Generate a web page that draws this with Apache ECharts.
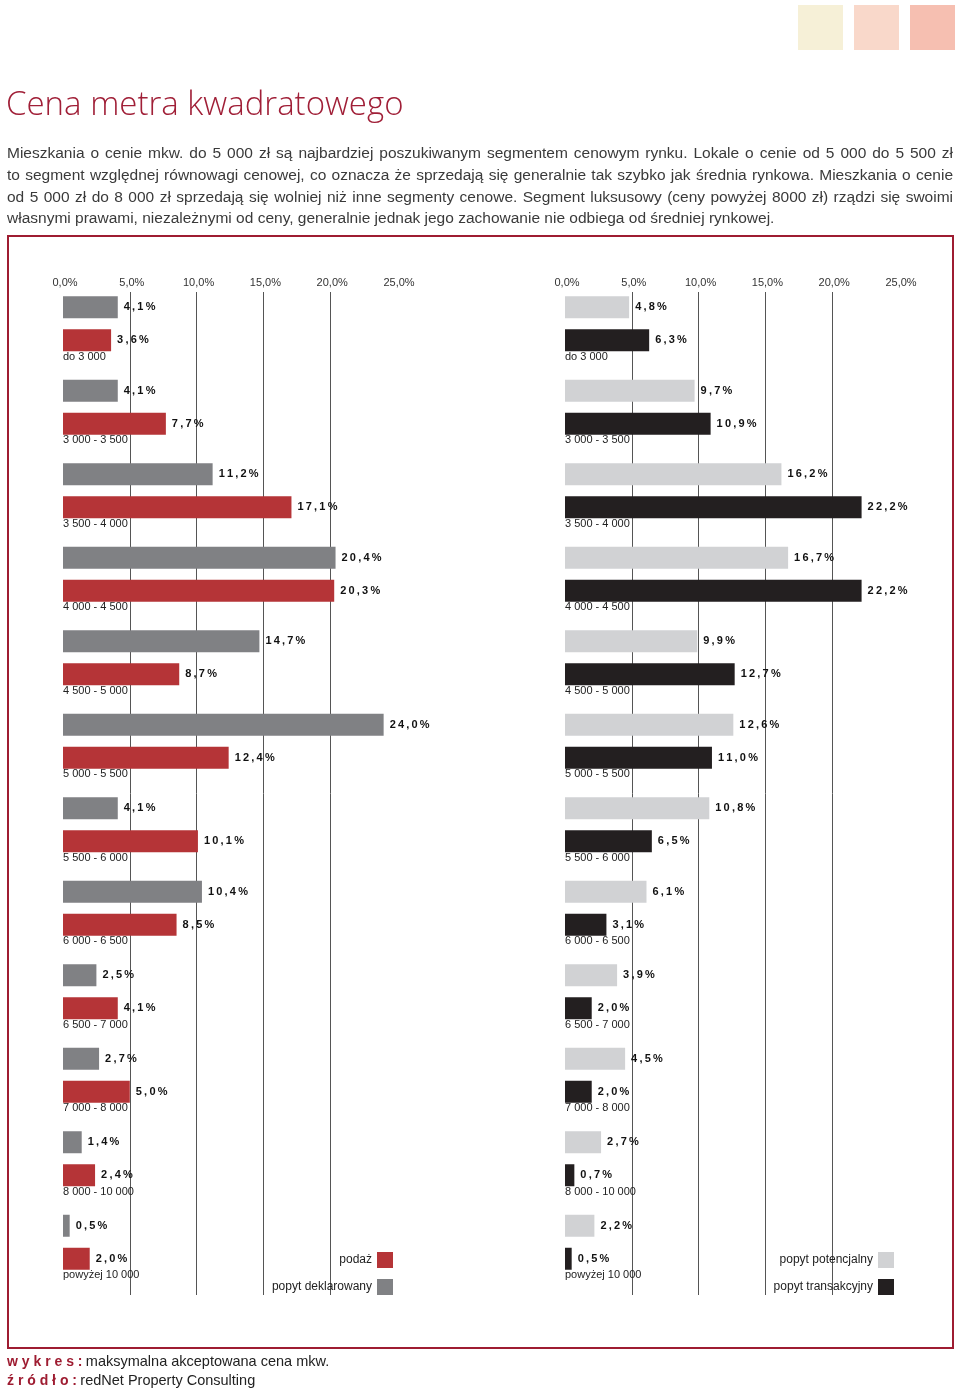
<!DOCTYPE html>
<html>
<head>
<meta charset="utf-8">
<script src="https://cdn.jsdelivr.net/npm/echarts@6/dist/echarts.min.js"></script>
<style>
html,body{margin:0;padding:0;background:#fff;}
#chart{width:960px;height:1390px;}
</style>
</head>
<body>
<div id="chart"></div>
<script>
// ---- data ----
const categories = ['do 3 000','3 000 - 3 500','3 500 - 4 000','4 000 - 4 500','4 500 - 5 000','5 000 - 5 500','5 500 - 6 000','6 000 - 6 500','6 500 - 7 000','7 000 - 8 000','8 000 - 10 000','powyżej 10 000'];
const popytDeklarowany = [4.1, 4.1, 11.2, 20.4, 14.7, 24.0, 4.1, 10.4, 2.5, 2.7, 1.4, 0.5];
const podaz = [3.6, 7.7, 17.1, 20.3, 8.7, 12.4, 10.1, 8.5, 4.1, 5.0, 2.4, 2.0];
const popytPotencjalny = [4.8, 9.7, 16.2, 16.7, 9.9, 12.6, 10.8, 6.1, 3.9, 4.5, 2.7, 2.2];
const popytTransakcyjny = [6.3, 10.9, 22.2, 22.2, 12.7, 11.0, 6.5, 3.1, 2.0, 2.0, 0.7, 0.5];
const axisMin = 0, axisMax = 25, axisStep = 5;
const seriesNames = ['popyt deklarowany', 'podaż', 'popyt potencjalny', 'popyt transakcyjny'];

const titleText = 'Cena metra kwadratowego';
const paragraphLines = [
  'Mieszkania o cenie mkw. do 5 000 zł są najbardziej poszukiwanym segmentem cenowym rynku. Lokale o cenie od 5 000 do 5 500 zł',
  'to segment względnej równowagi cenowej, co oznacza że sprzedają się generalnie tak szybko jak średnia rynkowa. Mieszkania o cenie',
  'od 5 000 zł do 8 000 zł sprzedają się wolniej niż inne segmenty cenowe. Segment luksusowy (ceny powyżej 8000 zł) rządzi się swoimi',
  'własnymi prawami, niezależnymi od ceny, generalnie jednak jego zachowanie nie odbiega od średniej rynkowej.'
];
const footerLabel1 = 'w y k r e s :', footerText1 = 'maksymalna akceptowana cena mkw.';
const footerLabel2 = 'ź r ó d ł o :', footerText2 = 'redNet Property Consulting';

// ---- styles ----
const C_RED = '#b53437', C_GRAY = '#808184', C_LGRAY = '#d1d2d4', C_BLACK = '#231f20';
const DARKRED = '#9e1c31';
const FONT = '"Liberation Sans", Arial, sans-serif';

function fmtPct(v) { return v.toFixed(1).replace('.', ','); }
function spaced(s) { return s.split('').join('\u2009'); }

function justified(lines, x0, width, y0, lh, size) {
  const ctx = document.createElement('canvas').getContext('2d');
  let fs = size, font;
  for (;;) {
    font = fs + 'px ' + FONT;
    ctx.font = font;
    let ok = true;
    for (const l of lines) { if (ctx.measureText(l).width > width - 4) ok = false; }
    if (ok || fs < 10) break;
    fs -= 0.25;
  }
  const els = [];
  lines.forEach((line, i) => {
    const y = y0 + i * lh;
    if (i === lines.length - 1) {
      els.push({type: 'text', x: x0, y: y, silent: true, style: {text: line, font: font, fill: '#3a3a3a', verticalAlign: 'middle'}});
      return;
    }
    const words = line.split(' ');
    const w = words.map(t => ctx.measureText(t).width);
    const tot = w.reduce((a, b) => a + b, 0);
    const gap = (width - tot) / (words.length - 1);
    let x = x0;
    words.forEach((t, j) => {
      els.push({type: 'text', x: x, y: y, silent: true, style: {text: t, font: font, fill: '#3a3a3a', verticalAlign: 'middle'}});
      x += w[j] + gap;
    });
  });
  return els;
}

const chart = echarts.init(document.getElementById('chart'), null, {renderer: 'canvas'});

const barGridTop = 282, barGridH = 1002, lineGridTop = 292, lineGridH = 1003;
const panelLeft = [63, 565], panelW = 334;

function barLabel() {
  return {
    show: true, position: 'right', distance: 6,
    formatter: p => spaced(fmtPct(p.value) + '%'),
    fontFamily: FONT, fontSize: 11, fontWeight: 'bold', color: '#111'
  };
}

const grids = [
  {left: panelLeft[0], top: barGridTop, width: panelW, height: barGridH},
  {left: panelLeft[1], top: barGridTop, width: panelW, height: barGridH},
  {left: panelLeft[0], top: lineGridTop, width: panelW, height: lineGridH},
  {left: panelLeft[1], top: lineGridTop, width: panelW, height: lineGridH}
];

const xAxes = [0, 1].map(g => ({gridIndex: g, type: 'value', min: axisMin, max: axisMax, show: false}))
  .concat([2, 3].map(g => ({
    gridIndex: g, type: 'value', position: 'top', min: axisMin, max: axisMax, interval: axisStep,
    axisLine: {show: false}, axisTick: {show: false},
    axisLabel: {margin: 4, padding: [0, 0, 0, 4], fontFamily: FONT, fontSize: 11, color: '#333', formatter: v => fmtPct(v) + '%'},
    splitLine: {show: true, showMinLine: false, showMaxLine: false, lineStyle: {color: '#555', width: 1}}
  })));

const yAxes = [0, 1].map(g => ({
  gridIndex: g, type: 'category', data: categories, inverse: true,
  axisLine: {show: false}, axisTick: {show: false}, splitLine: {show: false},
  axisLabel: {inside: true, margin: 0, interval: 0, verticalAlign: 'top', lineHeight: 66,
    fontFamily: FONT, fontSize: 11, color: '#222'}
})).concat([2, 3].map(g => ({gridIndex: g, type: 'value', show: false})));

const series = [
  {name: seriesNames[0], type: 'bar', xAxisIndex: 0, yAxisIndex: 0, data: popytDeklarowany, itemStyle: {color: C_GRAY}},
  {name: seriesNames[1], type: 'bar', xAxisIndex: 0, yAxisIndex: 0, data: podaz, itemStyle: {color: C_RED}},
  {name: seriesNames[2], type: 'bar', xAxisIndex: 1, yAxisIndex: 1, data: popytPotencjalny, itemStyle: {color: C_LGRAY}},
  {name: seriesNames[3], type: 'bar', xAxisIndex: 1, yAxisIndex: 1, data: popytTransakcyjny, itemStyle: {color: C_BLACK}}
].map(s => Object.assign(s, {barWidth: 22, barGap: '50%', label: barLabel(), z: 3}));

const legendCommon = {
  orient: 'vertical', top: 1252, itemWidth: 16, itemHeight: 16, itemGap: 11, align: 'right',
  icon: 'rect', selectedMode: false, padding: 0,
  textStyle: {fontFamily: FONT, fontSize: 12, color: '#222'}
};

const graphics = [
  {type: 'rect', shape: {x: 798, y: 5, width: 45, height: 45}, style: {fill: '#f6f0d7'}, silent: true},
  {type: 'rect', shape: {x: 854, y: 5, width: 45, height: 45}, style: {fill: '#f9d8ca'}, silent: true},
  {type: 'rect', shape: {x: 910, y: 5, width: 45, height: 45}, style: {fill: '#f6bfb1'}, silent: true},
  {type: 'text', x: 6, y: 106, silent: true, style: {text: titleText, font: '300 33px "Open Sans", Lato, sans-serif', fill: '#a01f37', verticalAlign: 'middle'}},
  {type: 'rect', shape: {x: 8, y: 236, width: 945, height: 1112}, style: {fill: 'none', stroke: DARKRED, lineWidth: 2}, silent: true, z: 10},
  {type: 'text', x: 7, y: 1362, silent: true, style: {
    text: '{a|' + footerLabel1 + '} {b|' + footerText1 + '}', verticalAlign: 'middle',
    rich: {a: {fontFamily: FONT, fontWeight: 'bold', fontSize: 14, fill: DARKRED, color: DARKRED},
           b: {fontFamily: FONT, fontSize: 14.5, color: '#222', fill: '#222'}}}},
  {type: 'text', x: 7, y: 1381, silent: true, style: {
    text: '{a|' + footerLabel2 + '} {b|' + footerText2 + '}', verticalAlign: 'middle',
    rich: {a: {fontFamily: FONT, fontWeight: 'bold', fontSize: 14, fill: DARKRED, color: DARKRED},
           b: {fontFamily: FONT, fontSize: 14.5, color: '#222', fill: '#222'}}}}
].concat(justified(paragraphLines, 7, 946, 154, 21.7, 15.5));

chart.setOption({
  animation: false,
  backgroundColor: '#fff',
  grid: grids,
  xAxis: xAxes,
  yAxis: yAxes,
  legend: [
    Object.assign({}, legendCommon, {data: [seriesNames[1], seriesNames[0]], right: 567}),
    Object.assign({}, legendCommon, {data: [seriesNames[2], seriesNames[3]], right: 66})
  ],
  series: series,
  graphic: graphics
});
</script>
</body>
</html>
